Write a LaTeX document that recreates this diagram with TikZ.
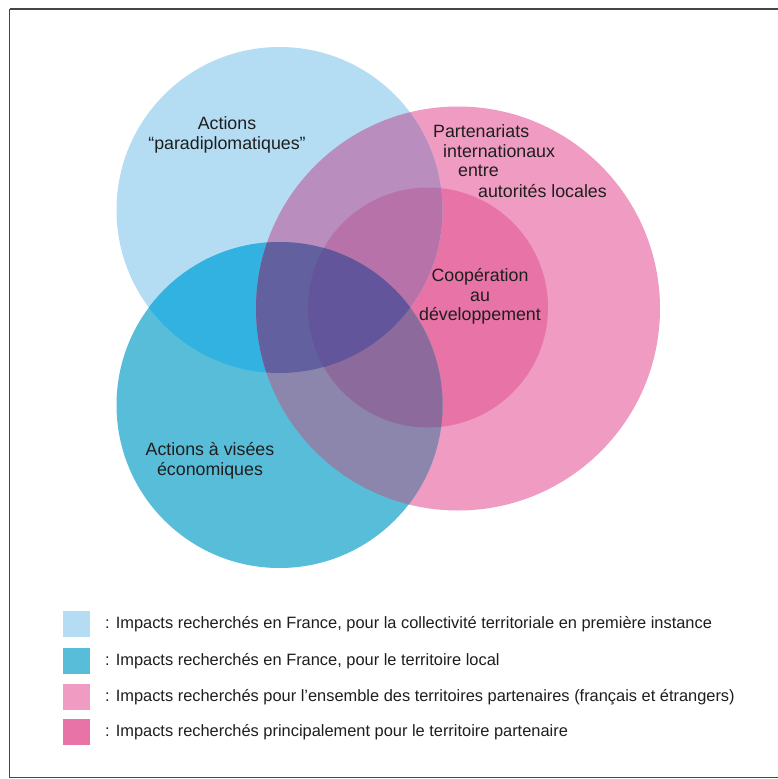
\documentclass[tikz,border=0pt]{standalone}
\usepackage{fontspec}
\setmainfont{Liberation Sans}
\definecolor{cA}{HTML}{B4DDF4}
\definecolor{cB}{HTML}{58BDD8}
\definecolor{cP}{HTML}{F09BC2}
\definecolor{cD}{HTML}{E873A6}
\definecolor{cAB}{HTML}{31B2E1}
\definecolor{cAP}{HTML}{B98DBD}
\definecolor{cAD}{HTML}{B872AA}
\definecolor{cBP}{HTML}{8C86AC}
\definecolor{cBD}{HTML}{8C6A9B}
\definecolor{cABP}{HTML}{6360A0}
\definecolor{cABD}{HTML}{62559B}
\definecolor{frame}{HTML}{454545}
\definecolor{txt}{HTML}{1E1E1E}
\begin{document}
\begin{tikzpicture}[x=1pt,y=-1pt,
  lbl/.style={text=txt,font=\fontsize{17.8}{19.6}\selectfont,inner sep=0pt},
  leg/.style={text=txt,font=\fontsize{16.4}{18}\selectfont,inner sep=0pt,anchor=west},
  sq/.style={minimum width=27pt,minimum height=26pt,inner sep=0pt,draw=none}]
\useasboundingbox (0,0) rectangle (777,779);
\fill[white] (0,0) rectangle (777,779);
\coordinate (A) at (279.5,210);
\coordinate (B) at (279.5,405);
\coordinate (P) at (458,308.5);
\coordinate (D) at (428,307.5);
\def\rA{163pt}\def\rB{163pt}\def\rP{202pt}\def\rD{120pt}
% base fills
\fill[cP] (P) circle[radius=\rP];
\fill[cD] (D) circle[radius=\rD];
\fill[cA] (A) circle[radius=\rA];
\fill[cB] (B) circle[radius=\rB];
% A cap B
\begin{scope}\clip (A) circle[radius=\rA]; \fill[cAB] (B) circle[radius=\rB];\end{scope}
% A cap P, A cap D
\begin{scope}\clip (A) circle[radius=\rA]; \fill[cAP] (P) circle[radius=\rP]; \fill[cAD] (D) circle[radius=\rD];\end{scope}
% B cap P, B cap D
\begin{scope}\clip (B) circle[radius=\rB]; \fill[cBP] (P) circle[radius=\rP]; \fill[cBD] (D) circle[radius=\rD];\end{scope}
% A cap B cap P, D
\begin{scope}\clip (A) circle[radius=\rA]; \clip (B) circle[radius=\rB];
  \fill[cABP] (P) circle[radius=\rP]; \fill[cABD] (D) circle[radius=\rD];\end{scope}
% frame
\draw[frame,line width=1.6pt] (9.5,9) -- (779,9);
\draw[frame,line width=1.6pt] (9.5,9) -- (9.5,777.5) -- (779,777.5);
% labels
\node[lbl,align=center] (la) at (227,135) {Actions\\“paradiplomatiques”};
\node[lbl,anchor=west] (lp1) at (433,131) {Partenariats};
\node[lbl,anchor=west] (lp2) at (443,151) {internationaux};
\node[lbl,anchor=west] (lp3) at (458,171) {entre};
\node[lbl,anchor=west] (lp4) at (478,191) {autorités locales};
\node[lbl,align=center] (ld) at (480,296.5) {Coopération\\au\\développement};
\node[lbl,align=center] (lb) at (210,460.5) {Actions à visées\\économiques};
% legend
\node[sq,fill=cA] (s1) at (76,624) {};
\node[sq,fill=cB] (s2) at (76,660.5) {};
\node[sq,fill=cP] (s3) at (76,696.5) {};
\node[sq,fill=cD] (s4) at (76,731.5) {};
\node[leg] (t1) at (105,624) {: Impacts recherchés en France, pour la collectivité territoriale en première instance};
\node[leg] (t2) at (105,661) {: Impacts recherchés en France, pour le territoire local};
\node[leg] (t3) at (105,697) {: Impacts recherchés pour l’ensemble des territoires partenaires (français et étrangers)};
\node[leg] (t4) at (105,732.5) {: Impacts recherchés principalement pour le territoire partenaire};
\end{tikzpicture}
\end{document}
